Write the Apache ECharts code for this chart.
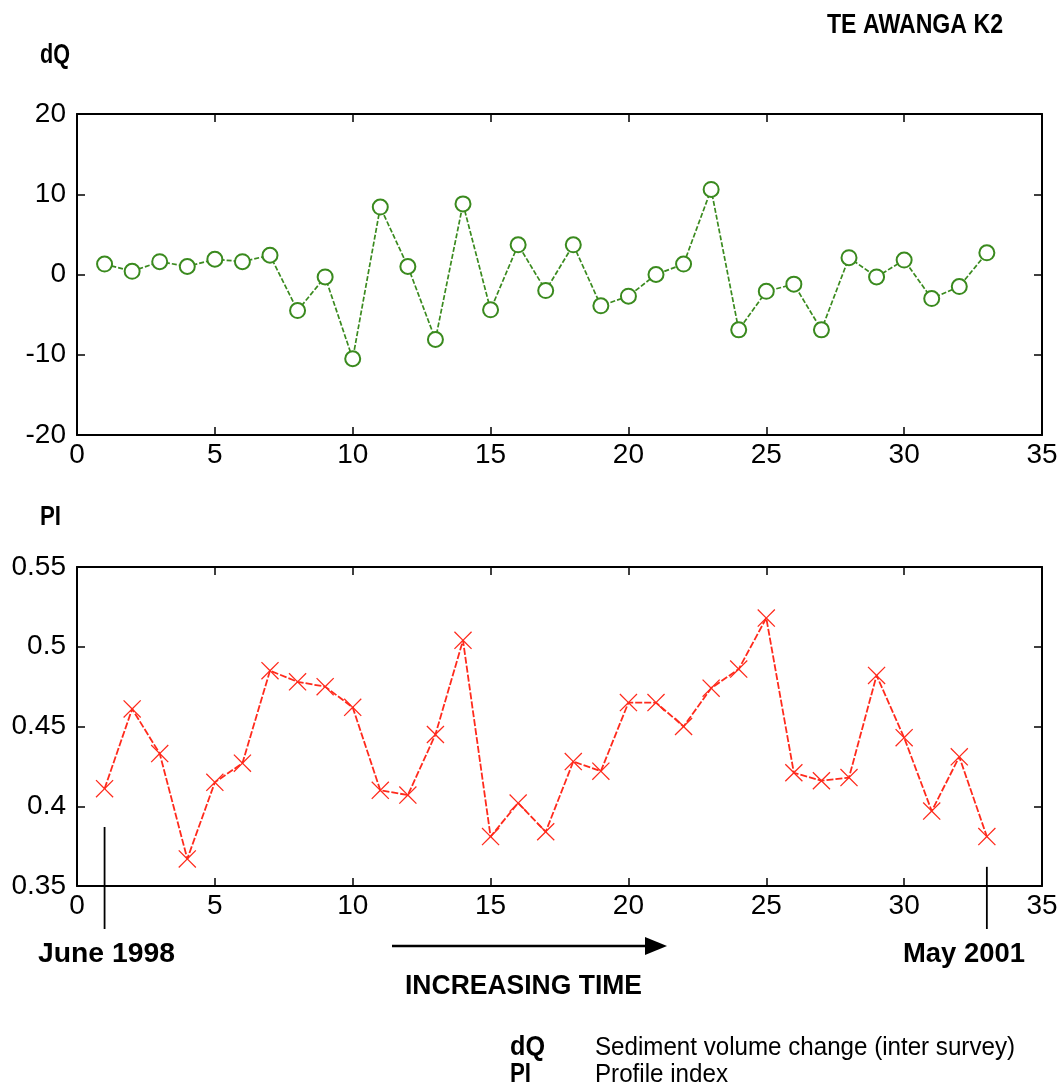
<!DOCTYPE html>
<html><head><meta charset="utf-8">
<script src="https://cdn.jsdelivr.net/npm/echarts@6/dist/echarts.min.js"></script>
<style>html,body{margin:0;padding:0;background:#fff}#c{width:1062px;height:1087px}</style>
</head><body><div id="c"></div>
<script>
// survey number (x)
const surveys = [1,2,3,4,5,6,7,8,9,10,11,12,13,14,15,16,17,18,19,20,21,22,23,24,25,26,27,28,29,30,31,32,33];
// dQ: sediment volume change (inter survey)
const dQ = [1.3,0.4,1.6,1.0,1.9,1.6,2.4,-4.5,-0.3,-10.5,8.4,1.0,-8.1,8.8,-4.4,3.7,-2.0,3.7,-3.9,-2.7,0.0,1.3,10.6,-6.9,-2.1,-1.2,-6.9,2.1,-0.3,1.8,-3.0,-1.5,2.7];
// PI: profile index
const PI = [0.411,0.461,0.433,0.367,0.415,0.427,0.485,0.478,0.475,0.462,0.410,0.407,0.445,0.504,0.381,0.402,0.384,0.428,0.422,0.465,0.465,0.450,0.474,0.486,0.518,0.421,0.416,0.418,0.482,0.443,0.397,0.431,0.381];
const xTickStep = 5;
const dQTicks = {min:-20, max:20, step:10};
const PITicks = {min:0.35, max:0.55, step:0.05};
const periodMarks = [{x:1, label:'June 1998'}, {x:33, label:'May 2001'}];

const GREEN = '#3a8a1e', RED = '#ff2a1c';
const labelFont = {color:'#000', fontSize:28, fontFamily:'Liberation Sans, Arial, sans-serif'};
const xMarker = 'path://M0,0.5L0.5,0L5,4.5L9.5,0L10,0.5L5.5,5L10,9.5L9.5,10L5,5.5L0.5,10L0,9.5L4.5,5Z';

function xAx(grid, pos, labels){
  return {type:'value', gridIndex:grid, position:pos, min:0, max:35, interval:xTickStep,
    axisLine:{show:true, onZero:false, lineStyle:{color:'#000', width:2}},
    axisTick:{show:true, inside:true, length:8, lineStyle:{color:'#000', width:1.5}},
    axisLabel:Object.assign({show:labels, margin:6}, labelFont),
    splitLine:{show:false}};
}
function yAx(grid, pos, t, labels){
  return {type:'value', gridIndex:grid, position:pos, min:t.min, max:t.max, interval:t.step,
    axisLine:{show:true, onZero:false, lineStyle:{color:'#000', width:2}},
    axisTick:{show:true, inside:true, length:8, lineStyle:{color:'#000', width:1.5}},
    axisLabel:Object.assign({show:labels, margin:11, formatter:v=>String(+(+v).toFixed(2))}, labelFont),
    splitLine:{show:false}};
}

const chart = echarts.init(document.getElementById('c'), null, {renderer:'canvas'});
const option = {
  backgroundColor:'#fff',
  animation:false,
  grid:[
    {left:77, right:20, top:114, height:321},
    {left:77, right:20, top:567, height:319}
  ],
  xAxis:[xAx(0,'bottom',true), xAx(1,'bottom',true), xAx(0,'top',false), xAx(1,'top',false)],
  yAxis:[yAx(0,'left',dQTicks,true), yAx(1,'left',PITicks,true), yAx(0,'right',dQTicks,false), yAx(1,'right',PITicks,false)],
  series:[
    {type:'line', xAxisIndex:0, yAxisIndex:0, data:surveys.map((s,i)=>[s,dQ[i]]),
     symbol:'emptyCircle', symbolSize:15, showAllSymbol:true,
     lineStyle:{color:GREEN, width:1.7, type:[5,2]},
     itemStyle:{color:GREEN, borderColor:GREEN, borderWidth:2}},
    {type:'line', xAxisIndex:1, yAxisIndex:1, data:surveys.map((s,i)=>[s,PI[i]]),
     symbol:xMarker, symbolSize:18, showAllSymbol:true,
     lineStyle:{color:RED, width:1.8, type:[7,2]},
     itemStyle:{color:RED}}
  ]
};
chart.setOption(option);

// annotations (condensed look by horizontal scaling of Liberation Sans)
const ctx = document.createElement('canvas').getContext('2d');
const g = [];
function txt(text, x, y, font, width, align){
  ctx.font = font;
  const w = ctx.measureText(text).width;
  const sx = width / w;
  g.push({type:'text', x, y, scaleX:sx, originX:0, originY:0,
    style:{text, x:0, y:0, font, fill:'#000', textAlign:align||'left', textVerticalAlign:'middle'}});
}
const B = 'bold 27px "Liberation Sans", Arial, sans-serif';
const R = '25px "Liberation Sans", Arial, sans-serif';
txt('TE AWANGA K2', 1003, 26, B, 176, 'right');
txt('dQ', 40, 56, B, 30);
txt('PI', 40, 518, B, 21);
periodMarks.forEach((m,i)=>{
  const top = chart.convertToPixel({xAxisIndex:1, yAxisIndex:1}, [m.x, i===0 ? 0.387 : 0.362]);
  const bot = chart.convertToPixel({xAxisIndex:1, yAxisIndex:1}, [m.x, 0.35]);
  g.push({type:'line', shape:{x1:top[0], y1:top[1], x2:top[0], y2:bot[1]+43}, style:{stroke:'#000', lineWidth:1.8}});
});
txt(periodMarks[0].label, 38, 955, B, 137);
txt(periodMarks[1].label, 1025, 955, B, 122, 'right');
g.push({type:'line', shape:{x1:392, y1:946, x2:648, y2:946}, style:{stroke:'#000', lineWidth:2.5}});
g.push({type:'polygon', shape:{points:[[645,937],[667,946],[645,955]]}, style:{fill:'#000'}});
txt('INCREASING TIME', 405, 987, B, 237);
txt('dQ', 510, 1048, B, 35);
txt('Sediment volume change (inter survey)', 595, 1048, R, 420);
txt('PI', 510, 1075, B, 21);
txt('Profile index', 595, 1075, R, 133);
chart.setOption({graphic:g});
</script>
</body></html>
